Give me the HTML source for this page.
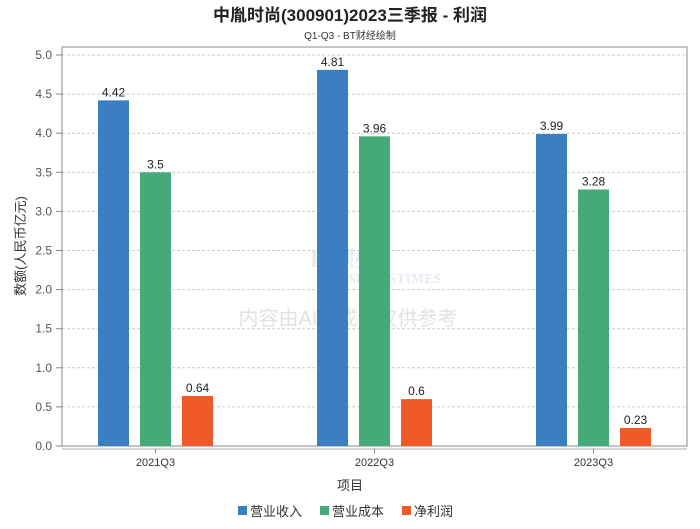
<!DOCTYPE html>
<html><head><meta charset="utf-8"><style>
body{margin:0;background:#fff;font-family:"Liberation Sans","Noto Sans CJK SC",sans-serif;}
</style></head><body>
<svg width="700" height="524" viewBox="0 0 700 524" xmlns="http://www.w3.org/2000/svg">
<text x="350" y="21" text-anchor="middle" font-size="17" font-weight="bold" fill="#222" font-family="Liberation Sans,Noto Sans CJK SC,sans-serif">中胤时尚(300901)2023三季报 - 利润</text>
<text x="350" y="39" text-anchor="middle" font-size="10" fill="#333" font-family="Liberation Sans,Noto Sans CJK SC,sans-serif">Q1-Q3 - BT财经绘制</text>
<g id="grid"></g>
<rect x="62" y="47" width="625" height="399" fill="none" stroke="#888"/>
<line x1="62" y1="449" x2="687" y2="449" stroke="#aaa"/>
<text x="350" y="267" text-anchor="middle" font-size="24" fill="#e6ebf2" font-family="Liberation Serif,Noto Serif CJK SC,serif" font-weight="bold">BT财经</text>
<text x="385" y="283" text-anchor="middle" font-size="14" fill="#e6ebf2" font-family="Liberation Serif,serif" font-weight="bold">BUSINESSTIMES</text>
<text x="348" y="325" text-anchor="middle" font-size="20" fill="#e2e2e2" font-family="Liberation Sans,Noto Sans CJK SC,sans-serif">内容由AI生成，仅供参考</text>
<g id="bars"></g>
<text x="350" y="490" text-anchor="middle" font-size="13" fill="#333" font-family="Liberation Sans,Noto Sans CJK SC,sans-serif">项目</text>
<text transform="translate(25,246) rotate(-90)" text-anchor="middle" font-size="13" fill="#333" font-family="Liberation Sans,Noto Sans CJK SC,sans-serif">数额(人民币亿元)</text>
<g id="legend"></g>
</svg>
<script>
const categories=["2021Q3","2022Q3","2023Q3"];
const seriesNames=["营业收入","营业成本","净利润"];
const revenue=[4.42,4.81,3.99];
const cost=[3.5,3.96,3.28];
const profit=[0.64,0.6,0.23];
const yTicks=["0.0","0.5","1.0","1.5","2.0","2.5","3.0","3.5","4.0","4.5","5.0"];
const colors=["#3a80c0","#45aa77","#f05a28"];
const NS="http://www.w3.org/2000/svg";
const y=v=>446-v*78.2;
const gx=i=>155.5+i*219;
function mk(t,a,p){const e=document.createElementNS(NS,t);for(const k in a)e.setAttribute(k,a[k]);p.appendChild(e);return e;}
const grid=document.getElementById('grid');
yTicks.forEach(t=>{const v=parseFloat(t);const yy=y(v);
 if(v>0){const l=mk('line',{x1:62,x2:687,y1:yy,y2:yy,stroke:'#ccc','stroke-dasharray':'3,2'},grid);
 
 }
 const tx=mk('text',{x:52,y:yy+4,'text-anchor':'end','font-size':12,fill:'#555'},grid);tx.textContent=t;
 
 
 mk('line',{x1:56,x2:62,y1:yy,y2:yy,stroke:'#888'},grid);
});
const bars=document.getElementById('bars');
const series=[revenue,cost,profit];
categories.forEach((c,i)=>{
 series.forEach((s,j)=>{const x=gx(i)-57.5+j*42;const r=mk('rect',{x:x,y:y(s[i]),width:31,height:446-y(s[i]),fill:colors[j]},bars);
 
 
 const t=mk('text',{x:x+15.5,y:y(s[i])-4,'text-anchor':'middle','font-size':12,fill:'#222'},bars);t.textContent=String(s[i]);
 
 });
 const t=mk('text',{x:gx(i),y:466,'text-anchor':'middle','font-size':11,fill:'#333'},bars);t.textContent=c;
 
 
 mk('line',{x1:gx(i),x2:gx(i),y1:449,y2:453,stroke:'#888'},bars);
});
const lg=document.getElementById('legend');
const lx=[238,320,402];
seriesNames.forEach((n,j)=>{const g=mk('g',{},lg);
 
 
 mk('rect',{x:lx[j],y:506,width:9,height:9,fill:colors[j]},g);
 const t=mk('text',{x:lx[j]+12,y:516,'font-size':13,fill:'#333'},g);t.textContent=n;});
</script>
</body></html>
